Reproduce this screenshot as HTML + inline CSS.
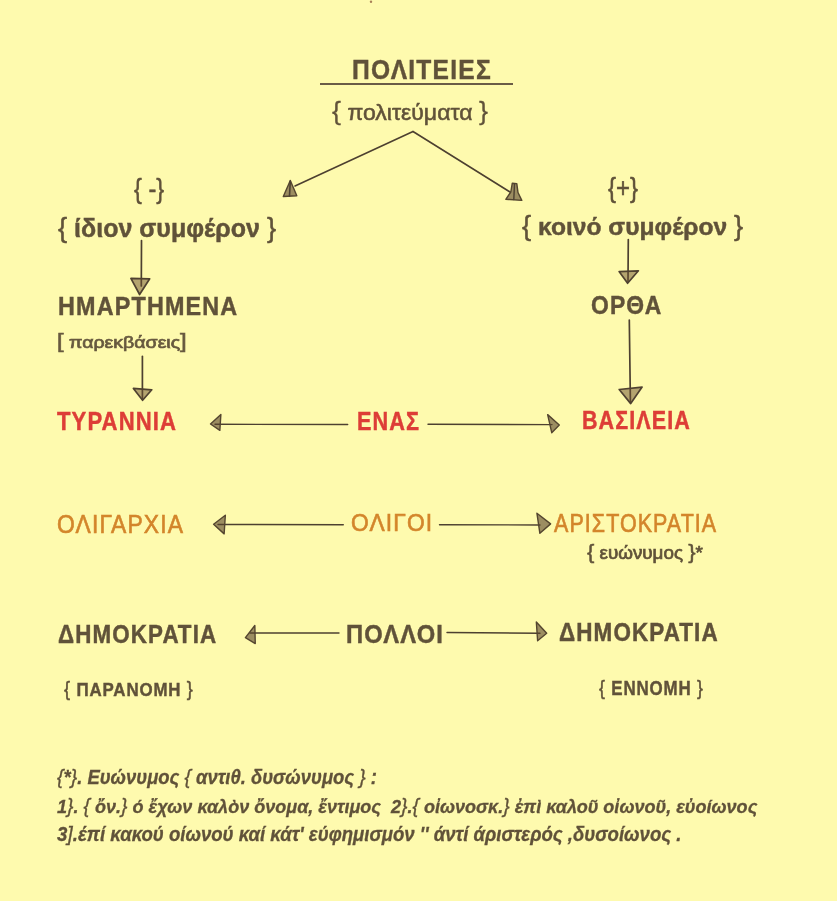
<!DOCTYPE html>
<html><head><meta charset="utf-8"><style>
html,body{margin:0;padding:0;}
body{width:837px;height:901px;background:#fefaae;position:relative;overflow:hidden;font-family:"Liberation Sans",sans-serif;}
.t{position:absolute;white-space:nowrap;line-height:1;transform-origin:0 0;}
.wrap{position:absolute;left:0;top:0;width:837px;height:901px;filter:blur(0.6px);}
.bl{display:inline-block;width:0;height:0;vertical-align:baseline;}
svg{position:absolute;left:0;top:0;}
svg line{stroke:#4d4030;stroke-linecap:round;}
svg .hv{fill:rgba(105,78,48,0.5);stroke:#4f4130;stroke-width:1.7;stroke-linejoin:round;}
svg .h{fill:rgba(90,68,45,0.6);stroke:#54452f;stroke-width:1.4;stroke-linejoin:round;}

</style></head>
<body><div class="wrap">
<div style="position:absolute;left:319.5px;top:83.4px;width:193px;height:2px;background:#6a5c46;"></div>
<svg width="837" height="901" viewBox="0 0 837 901" style="">
<line x1="413" y1="131.5" x2="295" y2="186" stroke-width="1.6" stroke="#7a6850"/>
<polygon points="290.3,180.5 283.3,196.5 296.8,195.8" class="h"/>
<line x1="290.3" y1="181" x2="289.5" y2="196" stroke-width="1.6"/>
<line x1="413" y1="131.5" x2="510" y2="192" stroke-width="1.6" stroke="#7a6850"/>
<polygon points="512.3,183.2 516.8,183.6 518,192.5 521.8,200.4 505.8,199.3 510.8,192" class="h"/>
<line x1="514.5" y1="184" x2="513.8" y2="199.5" stroke-width="1.4"/>
<line x1="141.5" y1="240.5" x2="141.3" y2="286" stroke-width="1.7" stroke="#4f4236"/>
<polygon points="130.9,278.4 149.7,278.8 139.6,294.5" class="hv"/>
<line x1="628.3" y1="239.6" x2="628" y2="282" stroke-width="1.7" stroke="#4f4236"/>
<polygon points="619.1,271.6 638.4,270.8 627.6,283.3" class="hv"/>
<line x1="142.4" y1="356.4" x2="142.4" y2="399" stroke-width="1.7" stroke="#4f4236"/>
<polygon points="133.4,388.4 151.8,389.8 142.6,400.3" class="hv"/>
<line x1="629.3" y1="320" x2="630.4" y2="402" stroke-width="1.7" stroke="#4f4236"/>
<polygon points="619.2,389.5 642.1,387.1 630.7,403.6" class="hv"/>
<line x1="347.7" y1="424.5" x2="215" y2="424.3" stroke-width="1.4" stroke="#55473a"/>
<polygon points="210.5,424.0 220.87,414.48 219.85,430.38" class="h"/>
<line x1="428" y1="424.2" x2="552" y2="424.6" stroke-width="1.4" stroke="#55473a"/>
<polygon points="547.65,414.63 559.3,425.0 551.74,432.65" class="h"/>
<line x1="343.3" y1="524.7" x2="218" y2="524.5" stroke-width="1.4" stroke="#55473a"/>
<polygon points="213.6,524.2 225.33,515.19 224.14,533.89" class="h"/>
<line x1="439.5" y1="524.7" x2="540" y2="525" stroke-width="1.4" stroke="#55473a"/>
<polygon points="536.91,513.19 550.6,523.9 539.89,533.34" class="h"/>
<line x1="339" y1="633" x2="250" y2="633" stroke-width="1.4" stroke="#55473a"/>
<polygon points="245.4,637.6 254.84,625.53 255.26,643.55" class="h"/>
<line x1="447" y1="632.5" x2="540" y2="633.3" stroke-width="1.4" stroke="#55473a"/>
<polygon points="536.33,621.91 546.7,633.3 537.61,640.69" class="h"/>
<circle cx="371" cy="1.8" r="1.2" fill="#a88058"/>
</svg>
<div class="t" id="title" style="left:351.58px;top:54.51px;font-size:28.55px;font-weight:700;color:#605239;-webkit-text-stroke:0.45px currentColor;letter-spacing:0.05em;transform:scaleX(0.8610);">ΠΟΛΙΤΕΙΕΣ<i class="bl"></i></div>
<div class="t" id="polit" style="left:331.78px;top:102.31px;font-size:22.46px;font-weight:400;color:#605239;-webkit-text-stroke:0.55px currentColor;transform:scaleX(1.0250);"><span style="font-size:1.170em;line-height:0;-webkit-text-stroke:0.3px currentColor;">{</span> πολιτεύματα <span style="font-size:1.170em;line-height:0;-webkit-text-stroke:0.3px currentColor;">}</span><i class="bl"></i></div>
<div class="t" id="minus" style="left:133.74px;top:175.70px;font-size:26.82px;font-weight:400;color:#605239;-webkit-text-stroke:0.5px currentColor;transform:scaleX(0.8775);">{ -}<i class="bl"></i></div>
<div class="t" id="plus" style="left:607.68px;top:174.51px;font-size:26.82px;font-weight:400;color:#605239;-webkit-text-stroke:0.5px currentColor;transform:scaleX(0.8943);">{+}<i class="bl"></i></div>
<div class="t" id="idion" style="left:58.40px;top:215.80px;font-size:24.89px;font-weight:700;color:#605239;-webkit-text-stroke:0.45px currentColor;transform:scaleX(1.0047);"><span style="font-size:1.095em;line-height:0;font-weight:400;-webkit-text-stroke:0.5px currentColor;">{</span> ίδιον συμφέρον <span style="font-size:1.095em;line-height:0;font-weight:400;-webkit-text-stroke:0.5px currentColor;">}</span><i class="bl"></i></div>
<div class="t" id="koino" style="left:522.16px;top:215.31px;font-size:24.70px;font-weight:700;color:#605239;-webkit-text-stroke:0.45px currentColor;transform:scaleX(0.9969);"><span style="font-size:1.112em;line-height:0;font-weight:400;-webkit-text-stroke:0.5px currentColor;">{</span> κοινό συμφέρον <span style="font-size:1.112em;line-height:0;font-weight:400;-webkit-text-stroke:0.5px currentColor;">}</span><i class="bl"></i></div>
<div class="t" id="hmar" style="left:57.52px;top:293.40px;font-size:26.22px;font-weight:700;color:#605239;-webkit-text-stroke:0.45px currentColor;letter-spacing:0.05em;transform:scaleX(0.8909);">ΗΜΑΡΤΗΜΕΝΑ<i class="bl"></i></div>
<div class="t" id="ortha" style="left:590.71px;top:291.50px;font-size:26.22px;font-weight:700;color:#605239;-webkit-text-stroke:0.45px currentColor;letter-spacing:0.05em;transform:scaleX(0.8721);">ΟΡΘΑ<i class="bl"></i></div>
<div class="t" id="parek" style="left:57.39px;top:334.51px;font-size:16.74px;font-weight:400;color:#67593f;-webkit-text-stroke:0.7px currentColor;transform:scaleX(1.1661);"><span style="font-size:1.224em;line-height:0;font-weight:400;-webkit-text-stroke:0.6px currentColor;">[</span> παρεκβάσεις<span style="font-size:1.224em;line-height:0;font-weight:400;-webkit-text-stroke:0.6px currentColor;">]</span><i class="bl"></i></div>
<div class="t" id="tyr" style="left:57.34px;top:408.32px;font-size:26.08px;font-weight:700;color:#dd3d37;-webkit-text-stroke:0.45px currentColor;letter-spacing:0.05em;transform:scaleX(0.8468);">ΤΥΡΑΝΝΙΑ<i class="bl"></i></div>
<div class="t" id="enas" style="left:356.76px;top:408.10px;font-size:26.22px;font-weight:700;color:#dd3d37;-webkit-text-stroke:0.45px currentColor;letter-spacing:0.05em;transform:scaleX(0.8265);">ΕΝΑΣ<i class="bl"></i></div>
<div class="t" id="vas" style="left:581.59px;top:407.32px;font-size:26.22px;font-weight:700;color:#dd3d37;-webkit-text-stroke:0.45px currentColor;letter-spacing:0.05em;transform:scaleX(0.8209);">ΒΑΣΙΛΕΙΑ<i class="bl"></i></div>
<div class="t" id="olig" style="left:57.27px;top:511.60px;font-size:25.70px;font-weight:400;color:#d3852b;-webkit-text-stroke:0.65px currentColor;letter-spacing:0.05em;transform:scaleX(0.8900);">ΟΛΙΓΑΡΧΙΑ<i class="bl"></i></div>
<div class="t" id="oligoi" style="left:351.19px;top:511.22px;font-size:24.83px;font-weight:400;color:#d3852b;-webkit-text-stroke:0.65px currentColor;letter-spacing:0.05em;transform:scaleX(0.9180);">ΟΛΙΓΟΙ<i class="bl"></i></div>
<div class="t" id="arist" style="left:554.47px;top:510.61px;font-size:25.55px;font-weight:400;color:#d3852b;-webkit-text-stroke:0.65px currentColor;letter-spacing:0.05em;transform:scaleX(0.8398);">ΑΡΙΣΤΟΚΡΑΤΙΑ<i class="bl"></i></div>
<div class="t" id="euon" style="left:586.59px;top:544.50px;font-size:17.50px;font-weight:400;color:#605239;-webkit-text-stroke:0.7px currentColor;transform:scaleX(1.0750);"><span style="font-size:1.165em;line-height:0;font-weight:400;-webkit-text-stroke:0.5px currentColor;">{</span> ευώνυμος <span style="font-size:1.165em;line-height:0;font-weight:400;-webkit-text-stroke:0.5px currentColor;">}</span>*<i class="bl"></i></div>
<div class="t" id="dimL" style="left:57.72px;top:622.21px;font-size:25.35px;font-weight:700;color:#605239;-webkit-text-stroke:0.45px currentColor;letter-spacing:0.05em;transform:scaleX(0.8830);">ΔΗΜΟΚΡΑΤΙΑ<i class="bl"></i></div>
<div class="t" id="polloi" style="left:345.71px;top:621.00px;font-size:26.51px;font-weight:700;color:#605239;-webkit-text-stroke:0.45px currentColor;letter-spacing:0.05em;transform:scaleX(0.8945);">ΠΟΛΛΟΙ<i class="bl"></i></div>
<div class="t" id="dimR" style="left:559.49px;top:620.31px;font-size:25.06px;font-weight:700;color:#605239;-webkit-text-stroke:0.45px currentColor;letter-spacing:0.05em;transform:scaleX(0.8965);">ΔΗΜΟΚΡΑΤΙΑ<i class="bl"></i></div>
<div class="t" id="paran" style="left:63.59px;top:680.21px;font-size:19.10px;font-weight:700;color:#605239;-webkit-text-stroke:0.45px currentColor;letter-spacing:0.05em;transform:scaleX(0.8836);"><span style="font-size:1.079em;line-height:0;font-weight:400;-webkit-text-stroke:0.5px currentColor;">{</span> ΠΑΡΑΝΟΜΗ <span style="font-size:1.079em;line-height:0;font-weight:400;-webkit-text-stroke:0.5px currentColor;">}</span><i class="bl"></i></div>
<div class="t" id="ennom" style="left:598.97px;top:678.90px;font-size:19.83px;font-weight:700;color:#605239;-webkit-text-stroke:0.45px currentColor;letter-spacing:0.05em;transform:scaleX(0.8522);"><span style="font-size:1.055em;line-height:0;font-weight:400;-webkit-text-stroke:0.5px currentColor;">{</span> ΕΝΝΟΜΗ <span style="font-size:1.055em;line-height:0;font-weight:400;-webkit-text-stroke:0.5px currentColor;">}</span><i class="bl"></i></div>
<div class="t" id="fn1" style="left:57.42px;top:768.01px;font-size:19.42px;font-weight:700;font-style:italic;color:#605239;-webkit-text-stroke:0.3px currentColor;transform:scaleX(0.9503);"><span style="font-size:1.050em;line-height:0;font-weight:400;-webkit-text-stroke:0.35px currentColor;">{</span>*<span style="font-size:1.050em;line-height:0;font-weight:400;-webkit-text-stroke:0.35px currentColor;">}</span>. Ευώνυμος <span style="font-size:1.050em;line-height:0;font-weight:400;-webkit-text-stroke:0.35px currentColor;">{</span> αντιθ. δυσώνυμος <span style="font-size:1.050em;line-height:0;font-weight:400;-webkit-text-stroke:0.35px currentColor;">}</span> :<i class="bl"></i></div>
<div class="t" id="fn2" style="left:57.42px;top:796.81px;font-size:19.13px;font-weight:700;font-style:italic;color:#605239;-webkit-text-stroke:0.3px currentColor;transform:scaleX(0.9441);">1<span style="font-size:1.066em;line-height:0;font-weight:400;-webkit-text-stroke:0.35px currentColor;">}</span>. <span style="font-size:1.066em;line-height:0;font-weight:400;-webkit-text-stroke:0.35px currentColor;">{</span> ὄν.<span style="font-size:1.066em;line-height:0;font-weight:400;-webkit-text-stroke:0.35px currentColor;">}</span> ό ἔχων καλὸν ὄνομα, ἔντιμος&nbsp; 2<span style="font-size:1.066em;line-height:0;font-weight:400;-webkit-text-stroke:0.35px currentColor;">}</span>.<span style="font-size:1.066em;line-height:0;font-weight:400;-webkit-text-stroke:0.35px currentColor;">{</span> οἰωνοσκ.<span style="font-size:1.066em;line-height:0;font-weight:400;-webkit-text-stroke:0.35px currentColor;">}</span> ἐπὶ καλοῦ οἰωνοῦ, εὐοίωνος<i class="bl"></i></div>
<div class="t" id="fn3" style="left:57.42px;top:825.40px;font-size:19.42px;font-weight:700;font-style:italic;color:#605239;-webkit-text-stroke:0.3px currentColor;transform:scaleX(0.9567);">3<span style="font-size:1.050em;line-height:0;font-weight:400;-webkit-text-stroke:0.35px currentColor;">]</span>.έπί κακού οίωνού καί κάτ' εύφημισμόν '' άντί άριστερός ,δυσοίωνος .<i class="bl"></i></div>
</div></body></html>
